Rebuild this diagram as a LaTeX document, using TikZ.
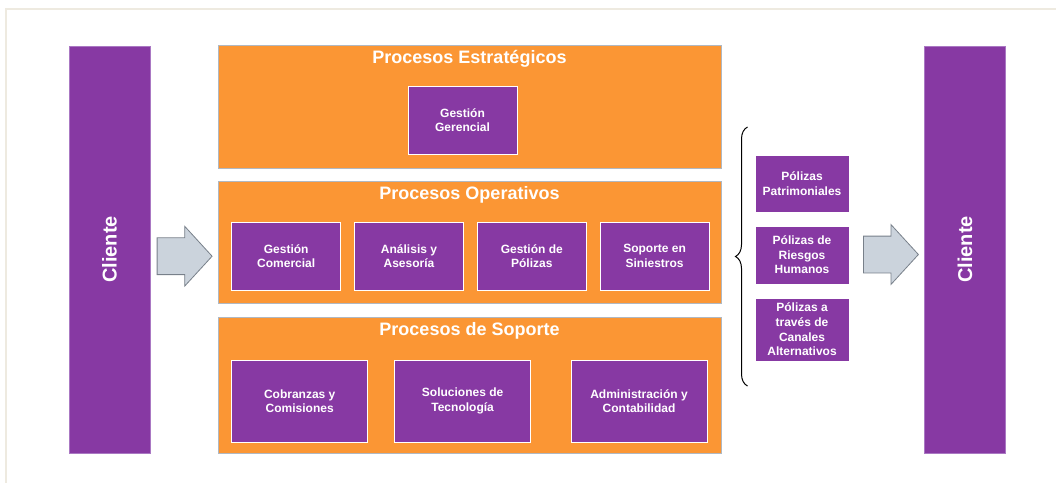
\documentclass[tikz,border=0pt]{standalone}
\usepackage{fontspec}
\setmainfont{Liberation Sans}
\usetikzlibrary{shapes.arrows}
\usetikzlibrary{positioning}
\usetikzlibrary{decorations.pathreplacing}
\usepackage{xcolor}
\definecolor{morado}{RGB}{135,57,163}
\definecolor{moradoclaro}{RGB}{170,120,195}
\definecolor{naranja}{RGB}{251,150,52}
\definecolor{bordegris}{RGB}{176,184,194}
\definecolor{flechagris}{RGB}{203,211,220}
\definecolor{flechaborde}{RGB}{120,128,138}
\definecolor{marco}{RGB}{238,234,224}

\begin{document}
\begin{tikzpicture}[x=1pt,y=-1pt,
    cliente/.style={fill=morado,draw=moradoclaro,line width=0.6pt,rotate=90,
        minimum width=407pt,minimum height=81pt,inner sep=0pt,
        text=white,font=\bfseries\fontsize{20}{24}\selectfont},
    proceso/.style={fill=naranja,draw=bordegris,line width=1pt,minimum width=503pt,inner sep=0pt},
    titulo/.style={text=white,font=\bfseries\fontsize{18}{22}\selectfont,
        inner sep=0pt,text height=13pt,text depth=4pt},
    caja/.style={fill=morado,draw=white,line width=0.8pt,inner sep=0pt,align=center,
        text=white,font=\bfseries\fontsize{12}{14.6}\selectfont},
    flecha/.style={single arrow,fill=flechagris,draw=flechaborde,line width=0.8pt,
        inner sep=0pt,text height=18pt,text depth=18pt,minimum height=55pt,anchor=tail,
        single arrow head extend=11.5pt,single arrow head indent=0pt,single arrow tip angle=95}]
    \useasboundingbox (0,0) rectangle (1056,483);
    \draw[marco,line width=2pt] (6,483) -- (6,9.3) -- (1056,9.3);

    \node[cliente] (cliIzq) at (109.5,249.5) {Cliente};
    \node[cliente] (cliDer) at (965,249.5) {Cliente};

    \node[proceso,minimum height=123pt] (estr) at (469.5,106.5) {};
    \node[proceso,minimum height=122pt] (oper) at (469.5,242) {};
    \node[proceso,minimum height=136pt] (sop) at (469.5,385) {};
    \node[titulo,below=5.5pt of estr.north] (tEstr) {Procesos Estratégicos};
    \node[titulo,below=5.5pt of oper.north] (tOper) {Procesos Operativos};
    \node[titulo,below=5.5pt of sop.north] (tSop) {Procesos de Soporte};

    % estrategicos
    \node[caja,minimum width=109pt,minimum height=68pt] (ger) at (462.5,120) {Gestión\\Gerencial};

    % operativos
    \begin{scope}[every node/.style={caja,minimum width=109pt,minimum height=68pt}]
        \node (com) at (286.2,256) {Gestión\\Comercial};
        \node[right=13pt of com] (ase) {Análisis y\\Asesoría};
        \node[right=13pt of ase] (pol) {Gestión de\\Pólizas};
        \node[right=13pt of pol] (sin) {Soporte en\\Siniestros};
    \end{scope}

    % soporte
    \begin{scope}[every node/.style={caja,minimum width=136pt,minimum height=82pt}]
        \node (cob) at (299.7,401) {Cobranzas y\\Comisiones};
        \node (tec) at (462.6,401) {Soluciones de\\Tecnología};
        \node (adm) at (639,401) {Administración y\\Contabilidad};
    \end{scope}

    % productos
    \node[caja,minimum width=94pt,minimum height=57pt] (pat) at (802,183.5) {Pólizas\\Patrimoniales};
    \node[caja,minimum width=94pt,minimum height=58pt] (hum) at (802,255) {Pólizas de\\Riesgos\\Humanos};
    \node[caja,minimum width=94pt,minimum height=63pt] (can) at (802,329.5) {Pólizas a\\través de\\Canales\\Alternativos};

    \coordinate (llaveAbajo) at (747.5,386);
    \coordinate (llaveArriba) at (747.5,127);
    \draw[line width=1pt,decorate,decoration={brace,amplitude=12pt}] (llaveAbajo) -- (llaveArriba);

    \node[flecha] (entrada) at (156.7,256.2) {};
    \node[flecha] (salida) at (863,254.5) {};
\end{tikzpicture}
\end{document}
